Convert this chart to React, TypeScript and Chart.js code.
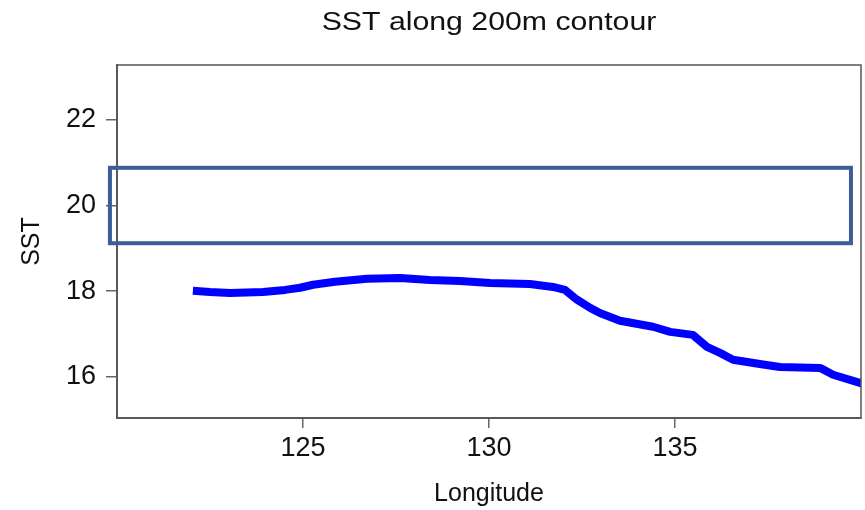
import React, { useEffect, useRef } from "react";
import { Chart, registerables } from "chart.js";

Chart.register(...registerables);

const TITLE = "SST along 200m contour";
const X_LABEL = "Longitude";
const Y_LABEL = "SST";

const LONGITUDE = [
  122.04, 122.5, 123.04, 123.92, 124.52, 124.92, 125.27, 125.86, 126.72, 127.61,
  128.41, 129.22, 130.03, 131.1, 131.72, 132.04, 132.37, 132.72, 132.98, 133.52,
  134.41, 134.87, 135.48, 135.86, 136.21, 136.56, 137.28, 137.82, 138.9, 139.25,
  139.97, 140.2,
];
const SST = [
  18.01, 17.98, 17.96, 17.98, 18.03, 18.08, 18.15, 18.22, 18.29, 18.31,
  18.26, 18.24, 18.19, 18.17, 18.1, 18.03, 17.8, 17.61, 17.49, 17.31,
  17.17, 17.05, 16.98, 16.7, 16.56, 16.4, 16.3, 16.23, 16.21, 16.05,
  15.86, 15.8,
];

const X_TICKS = [125, 130, 135];
const Y_TICKS = [16, 18, 20, 22];
const X_RANGE = [120, 140];
const Y_RANGE = [15.04, 23.28];

// highlighted band (longitude range, SST range)
const BOX_LON = [119.81, 139.73];
const BOX_SST = [19.12, 20.88];

const FONT = "'Liberation Sans', Arial, Helvetica, sans-serif";

export default function App() {
  const ref = useRef<HTMLCanvasElement | null>(null);

  useEffect(() => {
    const canvas = ref.current;
    if (!canvas) return;

    const overlay = {
      id: "overlay",
      afterDraw(chart: any) {
        const { ctx, chartArea } = chart;
        const xs = chart.scales.x;
        const ys = chart.scales.y;
        ctx.save();
        // frame
        ctx.strokeStyle = "#555555";
        ctx.lineWidth = 1.5;
        ctx.strokeRect(
          chartArea.left,
          chartArea.top,
          chartArea.right - chartArea.left,
          chartArea.bottom - chartArea.top
        );
        // highlight box
        const x1 = xs.getPixelForValue(BOX_LON[0]);
        const x2 = xs.getPixelForValue(BOX_LON[1]);
        const y1 = ys.getPixelForValue(BOX_SST[1]);
        const y2 = ys.getPixelForValue(BOX_SST[0]);
        ctx.strokeStyle = "#3a5e97";
        ctx.lineWidth = 4;
        ctx.strokeRect(x1, y1, x2 - x1, y2 - y1);
        // title (horizontally stretched like the reference)
        ctx.fillStyle = "#111111";
        ctx.font = `25px ${FONT}`;
        ctx.textAlign = "center";
        ctx.textBaseline = "alphabetic";
        const cx = (chartArea.left + chartArea.right) / 2;
        ctx.translate(cx, 30);
        ctx.scale(1.21, 1);
        ctx.fillText(TITLE, 0, 0);
        ctx.restore();
      },
    };

    const chart = new Chart(canvas, {
      type: "line",
      data: {
        datasets: [
          {
            data: LONGITUDE.map((x, i) => ({ x, y: SST[i] })),
            borderColor: "#0000ff",
            borderWidth: 8,
            borderCapStyle: "butt",
            borderJoinStyle: "round",
            pointRadius: 0,
            tension: 0,
            fill: false,
          },
        ],
      },
      options: {
        responsive: false,
        animation: false,
        layout: { padding: { top: 65, right: 4, left: 0, bottom: 0 } },
        plugins: {
          legend: { display: false },
          tooltip: { enabled: false },
          title: { display: false },
        },
        scales: {
          x: {
            type: "linear",
            min: X_RANGE[0],
            max: X_RANGE[1],
            afterBuildTicks: (s: any) => {
              s.ticks = X_TICKS.map((v) => ({ value: v }));
            },
            afterFit: (s: any) => {
              s.height = 92;
            },
            border: { display: true, color: "#666666", width: 2 },
            grid: {
              drawOnChartArea: false,
              drawTicks: true,
              tickLength: 10,
              color: "#666666",
              lineWidth: 1.5,
            },
            ticks: {
              color: "#111111",
              font: { family: FONT, size: 27 },
              padding: 4,
              maxRotation: 0,
            },
            title: {
              display: true,
              text: X_LABEL,
              color: "#111111",
              font: { family: FONT, size: 25 },
              padding: { top: 0, bottom: 1 },
            },
          },
          y: {
            type: "linear",
            min: Y_RANGE[0],
            max: Y_RANGE[1],
            afterBuildTicks: (s: any) => {
              s.ticks = Y_TICKS.map((v) => ({ value: v }));
            },
            afterFit: (s: any) => {
              s.width = 117;
            },
            border: { display: true, color: "#666666", width: 2 },
            grid: {
              drawOnChartArea: false,
              drawTicks: true,
              tickLength: 11,
              color: "#666666",
              lineWidth: 1.5,
            },
            ticks: {
              color: "#111111",
              font: { family: FONT, size: 27 },
              padding: 10,
            },
            title: {
              display: true,
              text: Y_LABEL,
              color: "#111111",
              font: { family: FONT, size: 25 },
              padding: { top: 17, bottom: 0 },
            },
          },
        },
      },
      plugins: [overlay],
    } as any);

    return () => chart.destroy();
  }, []);

  return (
    <div
      style={{
        position: "fixed",
        left: 0,
        top: 0,
        width: 865,
        height: 510,
        background: "#ffffff",
      }}
    >
      <canvas ref={ref} width={865} height={510} />
    </div>
  );
}
